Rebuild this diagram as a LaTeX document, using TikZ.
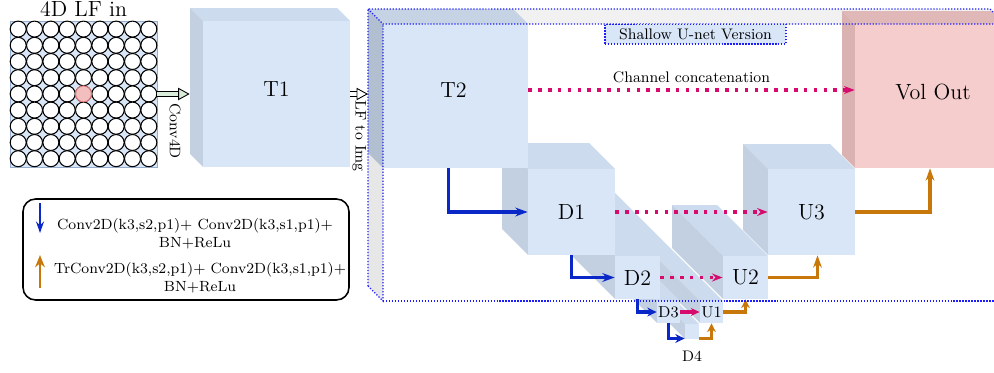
\documentclass[tikz,border=0pt]{standalone}
\usetikzlibrary{arrows.meta,calc,positioning}

\definecolor{blkfront}{RGB}{216,230,248}
\definecolor{blktop}{RGB}{204,219,237}
\definecolor{blkside}{RGB}{194,208,225}
\definecolor{shdfront}{RGB}{216,230,248}
\definecolor{shdtop}{RGB}{198,211,229}
\definecolor{shdside}{RGB}{177,191,208}
\definecolor{pnkfront}{RGB}{246,205,205}
\definecolor{pnktop}{RGB}{225,184,184}
\definecolor{pnkside}{RGB}{219,178,178}
\definecolor{shelltop}{RGB}{241,241,241}
\definecolor{shellside}{RGB}{231,231,231}
\definecolor{shellblue}{RGB}{30,30,250}
\definecolor{gridedge}{RGB}{150,172,205}
\definecolor{viewpink}{RGB}{243,190,190}
\definecolor{viewred}{RGB}{215,120,120}
\definecolor{downblue}{RGB}{10,40,200}
\definecolor{uporange}{RGB}{200,120,10}
\definecolor{catpink}{RGB}{215,10,110}
\definecolor{arrgreen}{RGB}{218,236,218}

\newcommand{\UNetBlock}[8]{
    \fill[#8top] (#2,#3) -- ++(#4,0) -- ++(-#6,-#6) -- ++(-#4,0) -- cycle;
    \fill[#8side] (#2,#3) -- ++(-#6,-#6) -- ++(0,#5) -- ++(#6,#6) -- cycle;
    \node[blockface, fill=#8front, minimum width=#4*0.02cm, minimum height=#5*0.02cm] (#1) at (#2+#4/2,#3+#5/2) {#7};
}

\begin{document}
\begin{tikzpicture}[x=0.02cm, y=-0.02cm,
    blockface/.style={rectangle, inner sep=0pt, font=\fontsize{12.5}{15}\selectfont},
    bigtxt/.style={inner sep=0pt, font=\fontsize{12.5}{15}\selectfont},
    smalltxt/.style={font=\fontsize{8.7}{10.5}\selectfont},
    legtxt/.style={font=\fontsize{8.4}{10.2}\selectfont, align=center},
    lfview/.style={draw=black, fill=white, line width=0.6pt},
    hollowarrow/.style={draw=black, line width=0.5pt, double=#1, double distance=2.6pt, -{Triangle[length=6.5pt, width=7pt, fill=#1, line width=0.5pt]}},
    downpath/.style={draw=downblue, line width=1.9pt, -{Stealth[length=#1, width=5pt]}},
    downpath/.default=7pt,
    uppath/.style={draw=uporange, line width=1.9pt, -{Stealth[length=#1, width=5pt]}},
    uppath/.default=7pt,
    concat/.style={draw=catpink, line width=2pt, dash pattern=on 2pt off 3.6pt, -{Stealth[length=6pt, width=4.5pt]}},
    shell/.style={draw=shellblue, line width=0.7pt, densely dotted},
]
    \useasboundingbox (0,0) rectangle (994,372);
    \clip (0,0) rectangle (994,372);

    \node[rectangle, draw=gridedge, fill=blkfront, minimum width=2.94cm, minimum height=2.92cm] (lfin) at (83.5,94) {};
    \foreach \i in {0,...,8}
        \foreach \j in {0,...,8}
            \draw[lfview] (18.2+16.33*\i,29.1+16.2*\j) circle[radius=0.16cm];
    \draw[lfview, fill=viewpink, draw=viewred] (83.5,93.9) circle[radius=0.16cm];
    \node[font=\fontsize{12.5}{15}\selectfont, inner sep=0pt, above=0.07cm of lfin] (lfin-title) {4D LF in};

    \fill[shelltop] (368,9) -- (990,9) -- (1005,24) -- (383,24) -- cycle;
    \fill[shellside] (368,9) -- (383,24) -- (383,301) -- (368,286) -- cycle;
    \coordinate (shell-back) at (368,9);

    \UNetBlock{D4}{685}{324}{14}{15}{100}{}{blk}
    \UNetBlock{U1}{700}{301}{23}{22}{110}{\small U1}{blk}
    \UNetBlock{D3}{657}{301}{23}{22}{85}{\small D3}{blk}
    \UNetBlock{D2}{615}{256}{45}{43}{45}{D2}{blk}
    \UNetBlock{D1}{528}{169}{87}{86}{26}{D1}{blk}
    \UNetBlock{U2}{723}{256}{45}{43}{51}{U2}{blk}
    \UNetBlock{U3}{768}{169}{87}{86}{25}{U3}{blk}
    \UNetBlock{T2}{383}{24}{145}{144}{15}{}{shd}
    \UNetBlock{VolOut}{855}{24}{150}{144}{13}{}{pnk}
    \UNetBlock{T1}{203}{21}{147}{146}{13}{}{blk}

    \node[bigtxt] (T1-txt) at ($(T1)+(0,-5)$) {T1};
    \node[bigtxt] (T2-txt) at ($(T2)+(-2,-6)$) {T2};
    \node[bigtxt] (VolOut-txt) at ($(VolOut)+(3,-4)$) {Vol Out};
    \node[smalltxt, below=0.11cm of D4] (D4-txt) {D4};

    \draw[hollowarrow=arrgreen] (lfin.east) -- ($(T1.west)+(-13,0)$) node[smalltxt, pos=0.55, rotate=-90, anchor=west, inner xsep=5pt, inner ysep=0pt] (conv4d-txt) {Conv4D};
    \draw[hollowarrow=white] (T1.east) -- (T1.east -| shell-back) node[smalltxt, midway, rotate=-90, anchor=west, inner xsep=3.5pt, inner ysep=0pt] (lf2img-txt) {LF to Img};

    \draw[concat] ([yshift=0.12cm]T2.east) -- ([yshift=0.12cm]VolOut.west) node[smalltxt, midway, above] (concat-txt) {Channel concatenation};
    \draw[concat] (D1.east) -- (U3.west);
    \draw[concat] (D2.east) -- (U2.west);
    \draw[catpink, line width=1.8pt, -{Stealth[length=5pt, width=4.5pt]}] (D3.east) -- (U1.west);

    \draw[downpath] ([xshift=-0.14cm]T2.south) |- (D1.west);
    \draw[downpath] (D1.south) |- (D2.west);
    \draw[downpath=5.3pt] (D2.south) |- (D3.west);
    \draw[downpath=5.3pt] (D3.south) |- ([yshift=-0.14cm]D4.west);

    \draw[uppath=5pt] ([yshift=-0.14cm]D4.east) -| (U1.south);
    \draw[uppath=5pt] (U1.east) -| (U2.south);
    \draw[uppath] (U2.east) -| ([xshift=0.12cm]U3.south);
    \draw[uppath] (U3.east) -| (VolOut.south);

    \draw[shell] (368,286) -- (shell-back) -- (990,9) -- (1005,24);
    \draw[shell] (shell-back) -- (383,24) -- (1005,24);
    \draw[shell] (368,286) -- (383,301) -- (383,24);
    \draw[shell] (383,301) -- (1005,301);
    \node[smalltxt, draw=shellblue, densely dotted, line width=0.7pt, fill=blkfront, inner sep=0pt, minimum width=3.62cm, minimum height=0.4cm, anchor=north] (unet-tag) at (695.5,23.5) {Shallow U-net Version};

    \node[draw=black, line width=0.9pt, rounded corners=0.25cm, minimum width=6.52cm, minimum height=2.02cm] (legend) at (186,249.5) {};
    \node[legtxt] (leg-down-txt) at (195,234) {Conv2D(k3,s2,p1)+ Conv2D(k3,s1,p1)+\\BN+ReLu};
    \node[legtxt] (leg-up-txt) at (200,277.5) {TrConv2D(k3,s2,p1)+ Conv2D(k3,s1,p1)+\\BN+ReLu};
    \coordinate (leg-down-a) at (40,203);
    \coordinate (leg-down-b) at (40,233);
    \coordinate (leg-up-a) at (40,288);
    \coordinate (leg-up-b) at (40,255);
    \draw[draw=downblue, line width=1.1pt, -{Stealth[length=6.5pt, width=4.5pt]}] (leg-down-a) -- (leg-down-b);
    \draw[draw=uporange, line width=1.1pt, -{Stealth[length=7pt, width=5.5pt]}] (leg-up-a) -- (leg-up-b);
\end{tikzpicture}
\end{document}
